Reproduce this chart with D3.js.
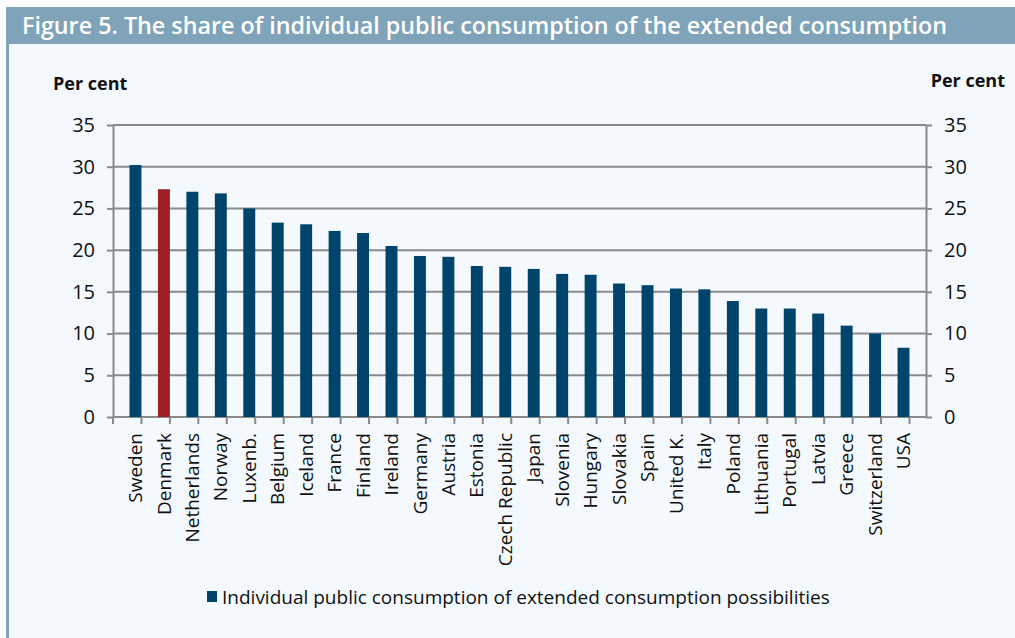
<!DOCTYPE html>
<html>
<head>
<meta charset="utf-8">
<script src="https://cdn.jsdelivr.net/npm/d3@7"></script>
<style>
  body { margin: 0; background: #ffffff; }
  svg { display: block; font-family: "Open Sans", sans-serif; }
</style>
</head>
<body>
<div id="chart"></div>
<script>
// Chart data
const countries = ["Sweden", "Denmark", "Netherlands", "Norway", "Luxenb.", "Belgium", "Iceland",
    "France", "Finland", "Ireland", "Germany", "Austria", "Estonia", "Czech Republic", "Japan",
    "Slovenia", "Hungary", "Slovakia", "Spain", "United K.", "Italy", "Poland", "Lithuania",
    "Portugal", "Latvia", "Greece", "Switzerland", "USA"];
const shares = [30.2, 27.3, 27.0, 26.8, 25.0, 23.3, 23.1, 22.3, 22.05, 20.5, 19.3, 19.2, 18.1, 18.0,
    17.75, 17.15, 17.05, 16.0, 15.8, 15.4, 15.3, 13.9, 13.0, 13.0, 12.4, 10.95, 10.0, 8.3];
const yTicks = [0, 5, 10, 15, 20, 25, 30, 35];
const highlight = "Denmark";
const titleText = "Figure 5. The share of individual public consumption of the extended consumption";
const legendText = "Individual public consumption of extended consumption possibilities";

const W = 1015, H = 638;
const margin = { top: 125, right: 89, bottom: 221, left: 113 };
const width = W - margin.left - margin.right,
    height = H - margin.top - margin.bottom;

const svg = d3.select("#chart").append("svg")
    .attr("width", W)
    .attr("height", H);

// Panel background and frame
svg.append("rect")
    .attr("x", 6).attr("y", 44)
    .attr("width", W - 6).attr("height", H - 44)
    .attr("fill", "#f4f9fd");
svg.append("rect")
    .attr("x", 6).attr("y", 44)
    .attr("width", 3).attr("height", H - 44)
    .attr("fill", "#7fa3b8");

// Title bar
svg.append("rect")
    .attr("x", 6).attr("y", 7)
    .attr("width", W - 6).attr("height", 37)
    .attr("fill", "#7fa3b8");
svg.append("text")
    .attr("x", 22).attr("y", 34)
    .attr("fill", "#ffffff")
    .style("font-size", "23.3px")
    .style("font-weight", "600")
    .text(titleText);

const g = svg.append("g")
    .attr("transform", `translate(${margin.left},${margin.top})`);

const x = d3.scaleBand()
    .domain(countries)
    .range([0, width])
    .padding(0.58);

const y = d3.scaleLinear()
    .domain([0, 35])
    .range([height, 0]);

const grey = "#8a8a8a";

// Gridlines
g.selectAll(".grid")
    .data(yTicks)
    .enter()
    .append("line")
    .attr("x1", 0).attr("x2", width)
    .attr("y1", d => y(d)).attr("y2", d => y(d))
    .attr("stroke", grey)
    .attr("stroke-width", 2);

// Bars
g.selectAll(".bar")
    .data(countries)
    .enter()
    .append("rect")
    .attr("x", d => x(d))
    .attr("y", (d, i) => y(shares[i]))
    .attr("width", x.bandwidth())
    .attr("height", (d, i) => height - y(shares[i]))
    .attr("fill", d => d === highlight ? "#a01f26" : "#00446b");

// Left and right axes
const yLeft = g.append("g")
    .call(d3.axisLeft(y).tickValues(yTicks).tickSize(6).tickSizeOuter(0).tickPadding(12));
const yRight = g.append("g")
    .attr("transform", `translate(${width},0)`)
    .call(d3.axisRight(y).tickValues(yTicks).tickSize(6).tickSizeOuter(0).tickPadding(12));

[yLeft, yRight].forEach(ax => {
    ax.select(".domain").attr("stroke", grey).attr("stroke-width", 2);
    ax.selectAll(".tick line").attr("stroke", grey).attr("stroke-width", 2);
    ax.selectAll(".tick text")
        .attr("fill", "#111")
        .style("font-size", "20px")
        .style("font-family", "'Open Sans', sans-serif");
});

// Bottom axis: ticks between categories
const step = x.step();
g.append("g")
    .selectAll("line")
    .data(d3.range(countries.length + 1))
    .enter()
    .append("line")
    .attr("x1", i => i * step).attr("x2", i => i * step)
    .attr("y1", height).attr("y2", height + 7)
    .attr("stroke", grey)
    .attr("stroke-width", 2);

g.append("g")
    .attr("transform", `translate(0,${height})`)
    .call(d3.axisBottom(x).tickSize(0).tickPadding(0))
    .call(ax => ax.select(".domain").remove())
    .selectAll("text")
    .attr("fill", "#111")
    .style("font-size", "19px")
    .style("font-family", "'Open Sans', sans-serif")
    .attr("text-anchor", "end")
    .attr("dy", "0.35em")
    .attr("transform", "translate(0,16) rotate(-90)");

// Axis unit labels
svg.append("text")
    .attr("x", 53).attr("y", 90)
    .style("font-size", "18px")
    .style("font-weight", "700")
    .attr("fill", "#111")
    .text("Per cent");
svg.append("text")
    .attr("x", 1005).attr("y", 87)
    .attr("text-anchor", "end")
    .style("font-size", "18px")
    .style("font-weight", "700")
    .attr("fill", "#111")
    .text("Per cent");

// Legend
svg.append("rect")
    .attr("x", 207).attr("y", 591)
    .attr("width", 10).attr("height", 11)
    .attr("fill", "#00446b");
svg.append("text")
    .attr("x", 222).attr("y", 604)
    .style("font-size", "19px")
    .attr("fill", "#111")
    .text(legendText);
</script>
</body>
</html>
